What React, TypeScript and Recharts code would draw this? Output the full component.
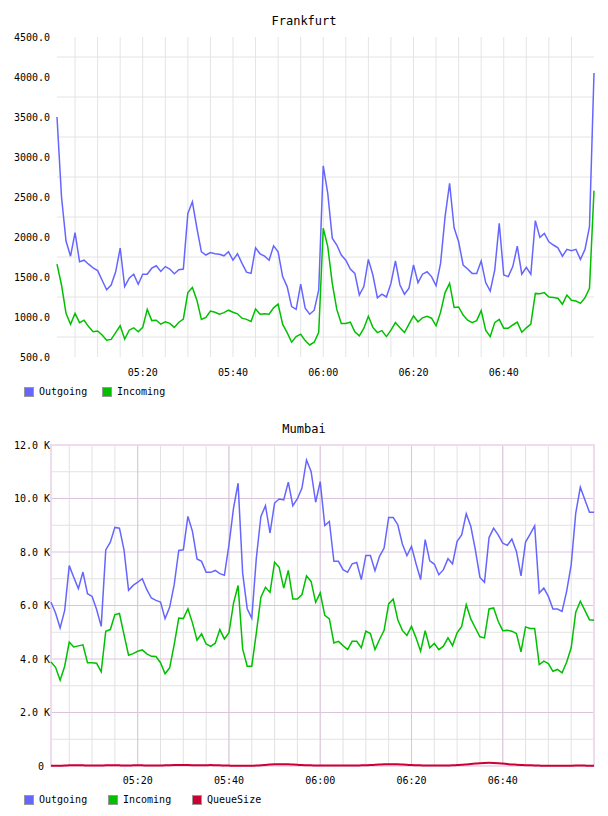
import React from "react";
import {
  LineChart,
  Line,
  XAxis,
  YAxis,
  CartesianGrid,
  ReferenceArea,
} from "recharts";

// one sample per minute, first sample at 05:01
const START_MINUTE = 1;
const END_MINUTE = 120;

const frankfurtOutgoing = [
  3500, 2500, 1950, 1760, 2055, 1690, 1710, 1660, 1615, 1580,
  1460, 1340, 1400, 1565, 1860, 1380, 1485, 1535, 1410, 1535,
  1535, 1610, 1640, 1570, 1630, 1600, 1540, 1590, 1600, 2295,
  2440, 2110, 1815, 1775, 1805, 1790, 1785, 1765, 1815, 1710,
  1790, 1670, 1560, 1545, 1865, 1790, 1760, 1710, 1890, 1815,
  1505, 1380, 1130, 1095, 1410, 1110, 1035, 1085, 1340, 2890,
  2545, 1985, 1900, 1775, 1710, 1600, 1545, 1275, 1380, 1720,
  1525, 1240, 1285, 1250, 1420, 1700, 1400, 1285, 1360, 1650,
  1430, 1535, 1565, 1505, 1390, 1670, 2255, 2670, 2115, 1940,
  1650, 1600, 1545, 1545, 1700, 1430, 1325, 1585, 2170, 1525,
  1505, 1630, 1885, 1535, 1620, 1535, 2205, 1995, 2045, 1940,
  1900, 1865, 1760, 1845, 1830, 1845, 1720, 1845, 2130, 4050,
];

const frankfurtIncoming = [
  1660, 1400, 1045, 910, 1045, 930, 960, 880, 815, 825,
  775, 710, 720, 805, 890, 725, 835, 865, 815, 870,
  1095, 955, 960, 910, 940, 920, 870, 935, 975, 1305,
  1370, 1210, 970, 995, 1075, 1060, 1035, 1055, 1085, 1060,
  1040, 985, 970, 945, 1100, 1035, 1040, 1035, 1115, 1160,
  910, 805, 685, 755, 785, 705, 650, 685, 810, 2110,
  1880, 1420, 1095, 920, 920, 935, 815, 765, 860, 1010,
  870, 805, 830, 755, 835, 930, 865, 805, 910, 1015,
  940, 990, 1010, 985, 890, 1060, 1305, 1420, 1120, 1125,
  1025, 960, 930, 955, 1080, 835, 755, 930, 970, 860,
  860, 900, 935, 810, 865, 910, 1295, 1290, 1305, 1250,
  1245, 1235, 1160, 1275, 1210, 1200, 1170, 1240, 1360, 2580,
];

const mumbaiOutgoing = [
  6120, 5720, 5160, 5820, 7490, 7050, 6630, 7250, 6440, 6340,
  5850, 5220, 8080, 8370, 8920, 8890, 8080, 6570, 6750, 6870,
  7000, 6590, 6280, 6190, 6130, 5510, 5930, 6780, 8060, 8080,
  9330, 8770, 7740, 7650, 7240, 7240, 7310, 7190, 7130, 8270,
  9640, 10570, 7210, 5880, 5530, 7770, 9330, 9730, 8710, 9830,
  9980, 9950, 10610, 9730, 9990, 10390, 11440, 11010, 9860, 10630,
  8990, 9140, 7650, 7650, 7340, 7240, 7560, 7610, 6970, 7870,
  7870, 7300, 7840, 8150, 9290, 9290, 9020, 8300, 7860, 8210,
  7560, 6970, 8460, 7670, 7550, 7150, 7340, 7750, 7560, 8400,
  8640, 9430, 8960, 8080, 7050, 6870, 8540, 8890, 8640, 8330,
  8250, 8480, 8020, 7110, 8370, 8670, 8980, 6470, 6650, 6340,
  5870, 5870, 5780, 6530, 7520, 9450, 10420, 9950, 9490, 9490,
];

const mumbaiIncoming = [
  3890, 3690, 3210, 3730, 4630, 4450, 4490, 4530, 3860, 3860,
  3840, 3520, 5040, 5100, 5660, 5700, 4910, 4140, 4200, 4290,
  4340, 4190, 4100, 4090, 3860, 3450, 3670, 4540, 5530, 5510,
  5880, 5350, 4700, 4940, 4560, 4470, 4590, 5100, 4750, 4980,
  6090, 6750, 4380, 3730, 3730, 4980, 6310, 6680, 6490, 7620,
  7430, 6650, 7310, 6240, 6240, 6410, 7110, 6900, 6120, 6470,
  5630, 5500, 4600, 4660, 4500, 4350, 4660, 4660, 4420, 5040,
  4950, 4350, 4730, 5070, 6060, 6240, 5470, 5070, 4880, 5220,
  4790, 4290, 5060, 4420, 4580, 4350, 4480, 4790, 4500, 4980,
  5220, 6030, 5500, 5160, 4830, 4790, 5870, 5910, 5410, 5060,
  5070, 5040, 4950, 4270, 5200, 5140, 5140, 3790, 3920, 3830,
  3540, 3610, 3480, 3880, 4420, 5750, 6160, 5820, 5470, 5450,
];

const mumbaiQueueSize = [
  5, 5, 10, 15, 25, 30, 30, 25, 20, 15,
  15, 20, 25, 30, 30, 25, 20, 20, 25, 30,
  25, 20, 15, 15, 20, 25, 30, 35, 40, 40,
  35, 30, 25, 25, 30, 35, 30, 25, 20, 15,
  10, 10, 5, 5, 10, 15, 25, 40, 55, 65,
  70, 70, 65, 55, 45, 35, 30, 25, 20, 15,
  15, 15, 15, 15, 20, 20, 20, 20, 25, 30,
  35, 45, 55, 65, 70, 70, 65, 55, 45, 35,
  30, 25, 20, 20, 15, 15, 15, 20, 25, 35,
  45, 60, 75, 90, 105, 115, 120, 115, 105, 90,
  75, 60, 50, 40, 30, 25, 20, 15, 10, 10,
  5, 5, 5, 5, 10, 15, 20, 15, 10, 10,
];

// axis ticks and grid lines (minutes after 05:00, values)
const timeTicks = [20, 40, 60, 80, 100];
const fiveMinuteLines = [
  5, 10, 15, 20, 25, 30, 35, 40, 45, 50, 55, 60,
  65, 70, 75, 80, 85, 90, 95, 100, 105, 110, 115,
];
const frankfurtTicks = [500, 1000, 1500, 2000, 2500, 3000, 3500, 4000, 4500];
const frankfurtGridLines = [750, 1250, 1750, 2250, 2750, 3250, 3750, 4250];
const mumbaiTicks = [0, 2000, 4000, 6000, 8000, 10000, 12000];
const mumbaiMinorLines = [1000, 3000, 5000, 7000, 9000, 11000];
const mumbaiMajorLines = [2000, 4000, 6000, 8000, 10000];

const OUT_COLOR = "#6666ff";
const IN_COLOR = "#00c000";
const QUEUE_COLOR = "#cc0033";
const MONO = "'DejaVu Sans Mono', monospace";

const frankfurtData = frankfurtOutgoing.map((v, i) => ({
  t: START_MINUTE + i,
  outgoing: v,
  incoming: frankfurtIncoming[i],
}));

const mumbaiData = mumbaiOutgoing.map((v, i) => ({
  t: START_MINUTE + i,
  outgoing: v,
  incoming: mumbaiIncoming[i],
  queue: mumbaiQueueSize[i],
}));

const fmtTime = (m: number) => {
  const h = 5 + Math.floor(m / 60);
  const mm = m % 60;
  return `${String(h).padStart(2, "0")}:${String(mm).padStart(2, "0")}`;
};

const fmtK = (v: number) => (v === 0 ? "0\u00a0" : `${(v / 1000).toFixed(1)} K`);

const tickStyle = { fontSize: 10, fontFamily: MONO, fill: "#000" };

type LegendItem = { name: string; color: string; left: number };

const LegendRow = ({ top, items }: { top: number; items: LegendItem[] }) => (
  <>
    {items.map((item) => (
      <div
        key={item.name}
        style={{
          position: "absolute",
          top,
          left: item.left,
          height: 10,
          display: "flex",
          alignItems: "center",
          fontFamily: MONO,
          fontSize: 10,
          lineHeight: "10px",
          color: "#000",
        }}
      >
        <div
          style={{
            width: 10,
            height: 10,
            boxSizing: "border-box",
            border: "1px solid #999",
            backgroundColor: item.color,
            marginRight: 5,
          }}
        />
        <span>{item.name}</span>
      </div>
    ))}
  </>
);

const Title = ({ top, text }: { top: number; text: string }) => (
  <div
    style={{
      position: "absolute",
      top,
      left: 0,
      width: 608,
      textAlign: "center",
      fontFamily: MONO,
      fontSize: 12,
      lineHeight: "12px",
      color: "#000",
    }}
  >
    {text}
  </div>
);

export default function App() {
  return (
    <div
      style={{
        position: "absolute",
        left: 0,
        top: 0,
        width: 608,
        height: 816,
        background: "#fff",
        overflow: "hidden",
      }}
    >
      <Title top={15} text="Frankfurt" />
      <div style={{ position: "absolute", left: 0, top: 0 }}>
        <LineChart
          width={608}
          height={380}
          data={frankfurtData}
          margin={{ top: 37, right: 14, bottom: 0, left: 0 }}
        >
          <CartesianGrid
            stroke="#e4e4e4"
            horizontalValues={frankfurtGridLines}
            verticalValues={fiveMinuteLines}
          />
          <XAxis
            dataKey="t"
            type="number"
            domain={[START_MINUTE, END_MINUTE]}
            ticks={timeTicks}
            interval={0}
            tickFormatter={fmtTime}
            axisLine={false}
            tickLine={false}
            tickSize={0}
            tickMargin={12}
            height={23}
            tick={tickStyle}
          />
          <YAxis
            type="number"
            domain={[500, 4500]}
            ticks={frankfurtTicks}
            interval={0}
            tickFormatter={(v: number) => v.toFixed(1)}
            axisLine={false}
            tickLine={false}
            tickSize={0}
            tickMargin={7}
            width={57}
            tick={tickStyle}
          />
          <Line
            type="linear"
            dataKey="outgoing"
            stroke={OUT_COLOR}
            strokeWidth={1.5}
            dot={false}
            isAnimationActive={false}
          />
          <Line
            type="linear"
            dataKey="incoming"
            stroke={IN_COLOR}
            strokeWidth={1.5}
            dot={false}
            isAnimationActive={false}
          />
        </LineChart>
      </div>
      <LegendRow
        top={387}
        items={[
          { name: "Outgoing", color: OUT_COLOR, left: 24 },
          { name: "Incoming", color: IN_COLOR, left: 102 },
        ]}
      />

      <Title top={423} text="Mumbai" />
      <div style={{ position: "absolute", left: 0, top: 400 }}>
        <LineChart
          width={608}
          height={390}
          data={mumbaiData}
          margin={{ top: 45, right: 14, bottom: 0, left: 0 }}
        >
          <CartesianGrid
            stroke="#e2e2e2"
            horizontalValues={mumbaiMinorLines}
            verticalValues={fiveMinuteLines}
          />
          <CartesianGrid
            stroke="#dcc4dc"
            horizontalValues={mumbaiMajorLines}
            verticalValues={timeTicks}
          />
          <ReferenceArea
            x1={START_MINUTE}
            x2={END_MINUTE}
            y1={0}
            y2={12000}
            fill="none"
            fillOpacity={0}
            stroke="#eedcee"
            strokeWidth={2}
          />
          <XAxis
            dataKey="t"
            type="number"
            domain={[START_MINUTE, END_MINUTE]}
            ticks={timeTicks}
            interval={0}
            tickFormatter={fmtTime}
            axisLine={false}
            tickLine={false}
            tickSize={0}
            tickMargin={11}
            height={24}
            tick={tickStyle}
          />
          <YAxis
            type="number"
            domain={[0, 12000]}
            ticks={mumbaiTicks}
            interval={0}
            tickFormatter={fmtK}
            axisLine={false}
            tickLine={false}
            tickSize={0}
            tickMargin={1}
            width={51}
            tick={tickStyle}
          />
          <Line
            type="linear"
            dataKey="outgoing"
            stroke={OUT_COLOR}
            strokeWidth={1.5}
            dot={false}
            isAnimationActive={false}
          />
          <Line
            type="linear"
            dataKey="incoming"
            stroke={IN_COLOR}
            strokeWidth={1.5}
            dot={false}
            isAnimationActive={false}
          />
          <Line
            type="monotone"
            dataKey="queue"
            stroke={QUEUE_COLOR}
            strokeWidth={2}
            dot={false}
            isAnimationActive={false}
          />
        </LineChart>
      </div>
      <LegendRow
        top={795}
        items={[
          { name: "Outgoing", color: OUT_COLOR, left: 24 },
          { name: "Incoming", color: IN_COLOR, left: 108 },
          { name: "QueueSize", color: QUEUE_COLOR, left: 192 },
        ]}
      />
    </div>
  );
}
